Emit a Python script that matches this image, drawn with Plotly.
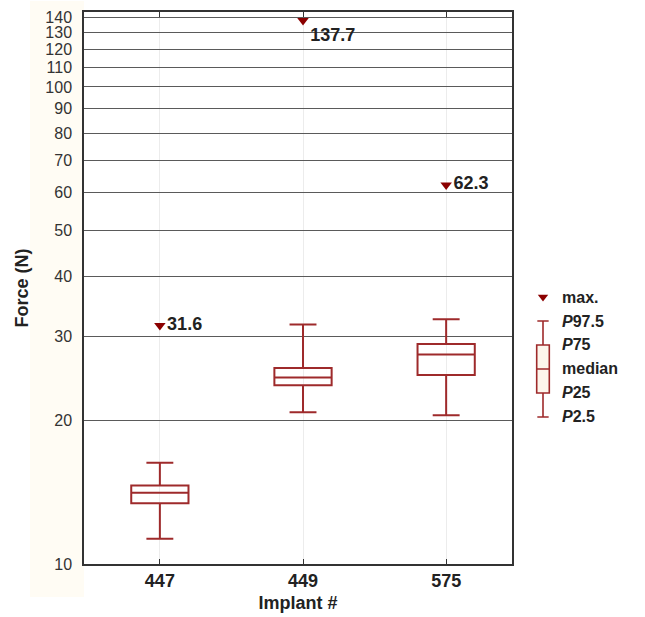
import plotly.graph_objects as go

# ---- data ----
implants = ["447", "449", "575"]
p2_5 = [11.3, 20.8, 20.5]
p25 = [13.4, 23.7, 24.9]
median = [14.1, 24.6, 27.5]
p75 = [14.6, 25.75, 28.9]
p97_5 = [16.3, 31.75, 32.6]
max_vals = [31.6, 137.7, 62.3]

y_ticks = [10, 20, 30, 40, 50, 60, 70, 80, 90, 100, 110, 120, 130, 140]

# legend key (schematic order of statistics)
legend_levels = [0, 1, 2, 3, 4, 5]
legend_labels = ["<i>P</i>2.5", "<i>P</i>25", "median", "<i>P</i>75", "<i>P</i>97.5", "max."]

RED = "#9e2a2b"
DARK = "#8b0000"
FONT = "Liberation Sans, Arial, sans-serif"

fig = go.Figure()

fig.add_trace(go.Box(
    x=implants, q1=p25, median=median, q3=p75,
    lowerfence=p2_5, upperfence=p97_5,
    boxpoints=False, width=0.4, whiskerwidth=0.47,
    line=dict(color=RED, width=2), fillcolor="rgba(255,255,255,0)",
    showlegend=False, hoverinfo="skip",
))

fig.add_trace(go.Scatter(
    x=implants, y=max_vals, mode="markers+text",
    marker=dict(symbol="triangle-down", size=10, color=DARK),
    text=[f"<b>{v:.1f}</b>" for v in max_vals],
    textposition=["middle right", "bottom right", "middle right"],
    textfont=dict(family=FONT, size=18, color="#222"),
    showlegend=False, hoverinfo="skip", cliponaxis=False,
))

# legend key on auxiliary axes
fig.add_trace(go.Box(
    x=[0], q1=[legend_levels[1]], median=[legend_levels[2]], q3=[legend_levels[3]],
    lowerfence=[legend_levels[0]], upperfence=[legend_levels[4]],
    boxpoints=False, width=0.525, whiskerwidth=0.9,
    line=dict(color=RED, width=1.6), fillcolor="#fdf6ec",
    xaxis="x2", yaxis="y2", showlegend=False, hoverinfo="skip",
))
fig.add_trace(go.Scatter(
    x=[0], y=[legend_levels[5]], mode="markers",
    marker=dict(symbol="triangle-down", size=9, color=DARK),
    xaxis="x2", yaxis="y2", showlegend=False, hoverinfo="skip", cliponaxis=False,
))

annotations = []
for lv, lab in zip(legend_levels, legend_labels):
    annotations.append(dict(
        x=0.7, y=lv, xref="x2", yref="y2", text=f"<b>{lab}</b>",
        showarrow=False, xanchor="left", yanchor="middle",
        font=dict(family=FONT, size=16, color="#222"),
    ))

fig.update_layout(
    width=645, height=617,
    margin=dict(l=84, r=0, t=12, b=53),
    paper_bgcolor="white", plot_bgcolor="white",
    xaxis=dict(
        domain=[0, 428 / 561], type="category", range=[-0.53, 2.46],
        showgrid=True, gridcolor="#ececec", gridwidth=1,
        showline=True, linecolor="#333", linewidth=1.5, mirror="ticks",
        ticks="inside", ticklen=5, tickcolor="#333",
        tickfont=dict(family=FONT, size=18, color="#222", weight="bold"),
        title=dict(text="<b>Implant #</b>", font=dict(family=FONT, size=18, color="#222"), standoff=6),
        zeroline=False,
    ),
    yaxis=dict(
        type="log", range=[1, 2.157],
        tickvals=y_ticks, ticktext=[str(v) for v in y_ticks],
        showgrid=True, gridcolor="#5a5a5a", gridwidth=1.3,
        showline=True, linecolor="#333", linewidth=1.5, mirror=True,
        ticks="", ticklabelstandoff=7,
        tickfont=dict(family=FONT, size=16, color="#333"),
        title=dict(text="<b>Force (N)</b>", font=dict(family=FONT, size=18, color="#222"), standoff=12),
        zeroline=False,
    ),
    xaxis2=dict(domain=[441 / 561, 1], range=[-0.75, 4.25], visible=False, anchor="y2"),
    yaxis2=dict(domain=[0.2446, 0.5054], range=[-0.5, 5.5], visible=False, anchor="x2"),
    annotations=annotations,
    shapes=[
        dict(type="rect", xref="paper", yref="paper", x0=-54 / 561, x1=0, y0=-33 / 552, y1=1.02,
             fillcolor="#fffcf4", line=dict(width=0), layer="below"),
    ],
)

fig.write_html("out.html", config={"displayModeBar": False},
               post_script="document.body.style.margin='0';")
